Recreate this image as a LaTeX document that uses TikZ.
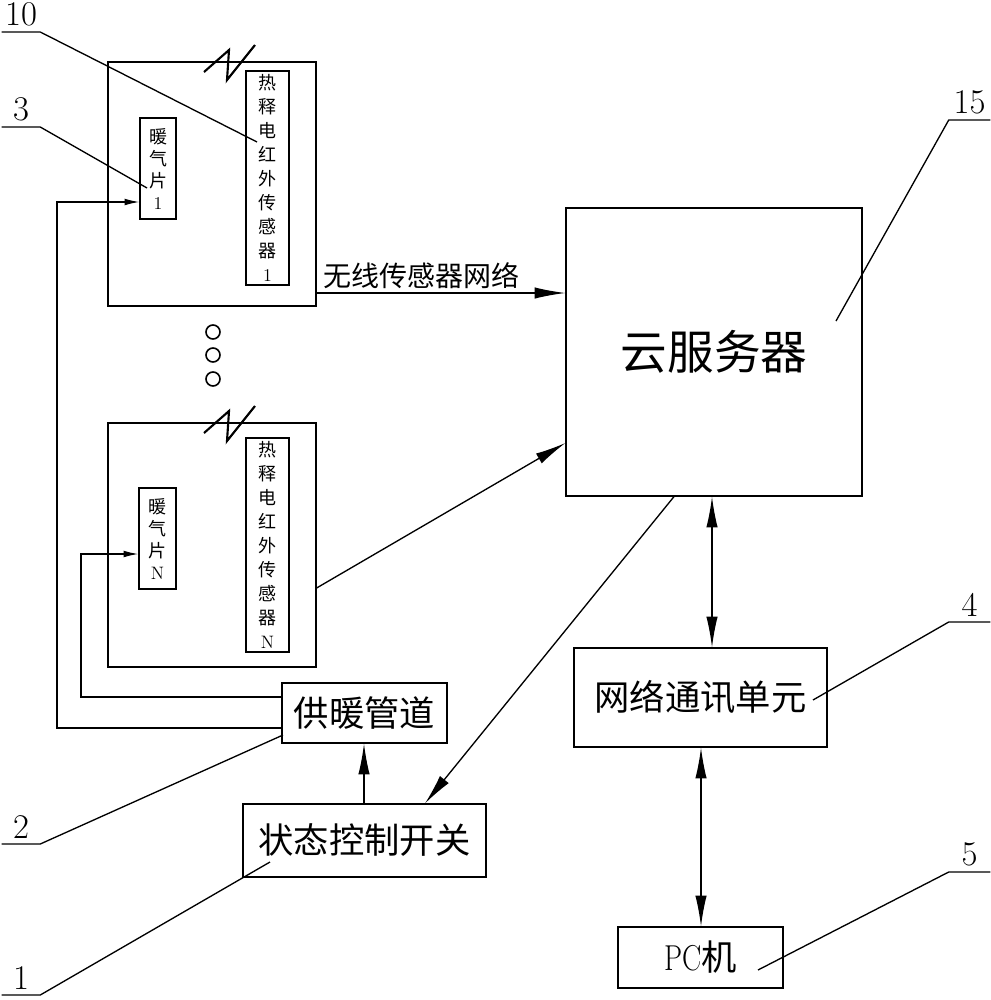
\documentclass[tikz,border=0pt]{standalone}
\usepackage{fontspec}
\usepackage{graphicx}
\newfontfamily\cjk{Noto Sans CJK SC}
\usetikzlibrary{arrows.meta,fit}
\begin{document}
\begin{tikzpicture}[x=0.75pt,y=-0.75pt,
  box/.style={draw, line width=0.9pt, inner sep=0pt},
  big/.style={-{Latex[length=23pt,width=8.5pt]}, line width=1pt},
  dbl/.style={{Latex[length=23pt,width=8.5pt]}-{Latex[length=23pt,width=8.5pt]}, line width=1pt},
  small/.style={-{Latex[length=11pt,width=5pt]}, line width=1pt},
  lead/.style={line width=1pt},
  num/.style={font=\fontsize{26}{26}\selectfont, inner xsep=0pt, inner ysep=4pt, anchor=south},
  vtext/.style={font=\cjk\fontsize{13.5}{18}\selectfont, align=center, inner sep=0pt},
  rtext/.style={font=\cjk\fontsize{13.5}{16.5}\selectfont, align=center, inner sep=0pt},
  btext/.style={font=\cjk\fontsize{26.5}{26.5}\selectfont, inner sep=0pt},
  zig/.style={line width=1.6pt}
]
\useasboundingbox (0,0) rectangle (990,1000);

% boxes
\node[box, fit={(108,62)(316,306)}] (room1) {};
\node[box, fit={(246,71)(289,285)}] (sens1) {};
\node[box, fit={(140,118)(176,219)}] (rad1) {};
\node[box, fit={(108,423)(316,667)}] (roomN) {};
\node[box, fit={(246,438)(289,652)}] (sensN) {};
\node[box, fit={(139,488)(176,589)}] (radN) {};
\node[box, fit={(282,683)(447,743)}] (pipe) {};
\node[box, fit={(243,804)(486,877)}] (switch) {};
\node[box, fit={(566,208)(862,496)}] (server) {};
\node[box, fit={(574,648)(827,747)}] (net) {};
\node[box, fit={(618,927)(783,988)}] (pc) {};

% texts
\node[vtext] (sens1t) at (sens1) {热\\释\\电\\红\\外\\传\\感\\器\\{\rmfamily 1}};
\node[vtext] (sensNt) at (sensN) {热\\释\\电\\红\\外\\传\\感\\器\\{\rmfamily N}};
\node[rtext] (rad1t) at (rad1) {暖\\气\\片\\{\rmfamily 1}};
\node[rtext] (radNt) at (radN) {暖\\气\\片\\{\rmfamily N}};
\node[btext] (pipet) at (pipe) {供暖管道};
\node[btext] (switcht) at (switch) {状态控制开关};
\node[btext] (nett) at (net) {网络通讯单元};
\node[btext] (pct) at (pc) {{\rmfamily\fontsize{27}{27}\selectfont\scalebox{0.8}[1]{PC}}机};
\node[font=\cjk\fontsize{35}{35}\selectfont, inner sep=0pt] (servert) at (server) {云服务器};
\node[font=\cjk\fontsize{21}{21}\selectfont, inner sep=0pt] (wsn) at (421,276) {无线传感器网络};

% wireless symbols
\draw[zig] (204,72) -- (229,50) -- (227,80) -- (255,45);
\draw[zig] (204,433) -- (229,411) -- (227,441) -- (255,406);

% dots
\draw[line width=1.2pt] (213,332) circle[radius=7];
\draw[line width=1.2pt] (213,355) circle[radius=7];
\draw[line width=1.2pt] (213,379) circle[radius=7];

% connectors
\draw[big] (room1.east |- 0,293) -- (server.west |- 0,293);
\draw[big] (roomN.east |- 0,588) -- (server.west |- 0,443);
\draw[big] (server.south -| 674,0) -- (switch.north -| 425,0);
\draw[big] (switch.north -| 364,0) -- (pipe.south -| 364,0);
\draw[dbl] (server.south -| 712,0) -- (net.north -| 712,0);
\draw[dbl] (net.south -| 701,0) -- (pc.north -| 701,0);
\draw[small] (pipe.west |- 0,728) -- (57,728) -- (57,202) -- (rad1.west |- 0,202);
\draw[small] (pipe.west |- 0,697) -- (81,697) -- (81,554) -- (radN.west |- 0,554);

% reference labels
\coordinate (t10) at (257,142);
\coordinate (t3) at (147,188);
\coordinate (t2) at (283,735);
\coordinate (t1) at (270,862);
\coordinate (t15) at (836,321);
\coordinate (t4) at (813,700);
\coordinate (t5) at (758,970);
\node[num, minimum width=28.5pt] (l10) at (21,32) {10};
\node[num, minimum width=28.5pt] (l3) at (21,127) {3};
\node[num, minimum width=28.5pt] (l2) at (21,844) {2};
\node[num, minimum width=28.5pt] (l1) at (21,995) {1};
\node[num, minimum width=30.75pt] (l15) at (969.5,120) {15};
\node[num, minimum width=30.75pt] (l4) at (969.5,622) {4};
\node[num, minimum width=30.75pt] (l5) at (969.5,872) {5};
\draw[lead] (l10.south west) -- (l10.south east) -- (t10);
\draw[lead] (l3.south west) -- (l3.south east) -- (t3);
\draw[lead] (l2.south west) -- (l2.south east) -- (t2);
\draw[lead] (l1.south west) -- (l1.south east) -- (t1);
\draw[lead] (l15.south east) -- (l15.south west) -- (t15);
\draw[lead] (l4.south east) -- (l4.south west) -- (t4);
\draw[lead] (l5.south east) -- (l5.south west) -- (t5);
\end{tikzpicture}
\end{document}
